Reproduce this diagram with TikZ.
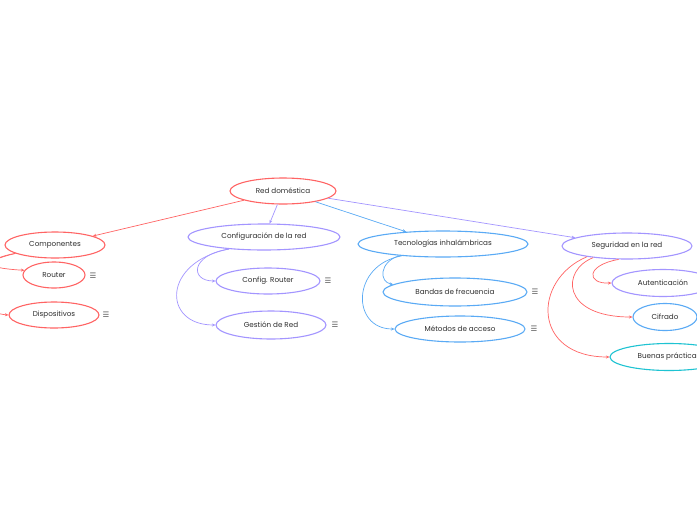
\documentclass[tikz,border=0pt]{standalone}
\usepackage{fontspec}
\setmainfont{Poppins}
\newfontfamily\iconfont{DejaVu Sans}
\usetikzlibrary{shapes.geometric,arrows.meta}
\definecolor{mapred}{HTML}{FF6464}
\definecolor{mappurple}{HTML}{A395FF}
\definecolor{mapblue}{HTML}{5AAAF5}
\definecolor{mapcyan}{HTML}{1EC3D2}
\definecolor{maptext}{HTML}{2E2E2E}
\tikzset{
  topic/.style={draw=#1, ellipse, line width=1.1pt, inner sep=0pt, text=maptext,
    font=\fontsize{7.2}{8}\selectfont},
  link/.style={draw=#1, line width=0.7pt, -{Stealth[length=3.5pt,width=3pt]}},
  menu/.style={text=maptext!80, font=\iconfont\fontsize{7.5}{8}\selectfont}
}
\begin{document}
\begin{tikzpicture}[x=1pt,y=-1pt]
  \fill[white] (0,0) rectangle (697,520);
  \useasboundingbox (0,0) rectangle (697,520);

  % topics
  \node (root) [topic=mapred, minimum width=106pt, minimum height=26pt] at (283,191) {Red doméstica};
  \node (comp) [topic=mapred, minimum width=100pt, minimum height=26pt] at (55,245) {Componentes};
  \node (rout) [topic=mapred, minimum width=62pt, minimum height=26pt] at (54,275) {Router};
  \node (disp) [topic=mapred, minimum width=90pt, minimum height=26pt] at (54,315) {Dispositivos};
  \node (cfg) [topic=mappurple, minimum width=152pt, minimum height=26pt] at (264,237) {Configuración de la red};
  \node (cfgr) [topic=mappurple, minimum width=104pt, minimum height=26pt] at (268,281) {Config. Router};
  \node (gest) [topic=mappurple, minimum width=110pt, minimum height=28pt] at (271,325) {Gestión de Red};
  \node (tec) [topic=mapblue, minimum width=170pt, minimum height=26pt] at (443,244) {Tecnologías inhalámbricas};
  \node (band) [topic=mapblue, minimum width=144pt, minimum height=28pt] at (455,292) {Bandas de frecuencia};
  \node (met) [topic=mapblue, minimum width=130pt, minimum height=26pt] at (460,329) {Métodos de acceso};
  \node (seg) [topic=mappurple, minimum width=130pt, minimum height=26pt] at (627,246) {Seguridad en la red};
  \node (auth) [topic=mappurple, minimum width=102pt, minimum height=27pt] at (663,283) {Autenticación};
  \node (cif) [topic=mapblue, minimum width=64pt, minimum height=27pt] at (665,317) {Cifrado};
  \node (buen) [topic=mapcyan, minimum width=118pt, minimum height=27pt] at (669,357) {Buenas prácticas};

  % note icons
  \node (routm) [menu] at (93,276) {☰};
  \node (dispm) [menu] at (106,315) {☰};
  \node (cfgrm) [menu] at (328,281) {☰};
  \node (gestm) [menu] at (335,325) {☰};
  \node (bandm) [menu] at (535,292) {☰};
  \node (metm) [menu] at (534,329) {☰};

  % links
  \draw[link=mapred] (root) -- (comp);
  \draw[link=mappurple] (root) -- (cfg);
  \draw[link=mapblue] (root) -- (tec);
  \draw[link=mappurple] (root) -- (seg);

  \draw[link=mapred] (comp.192) .. controls (-20,262) and (-15,268) .. (rout.171);
  \draw[link=mapred] (comp.192) .. controls (-40,262) and (-30,312) .. (disp.west);

  \draw[link=mappurple] (cfg.199) .. controls (190,255) and (190,281) .. (cfgr.west);
  \draw[link=mappurple] (cfg.199) .. controls (162,262) and (162,325) .. (gest.west);

  \draw[link=mapblue] (tec.195) .. controls (379,262) and (379,282) .. (band.173);
  \draw[link=mapblue] (tec.196) .. controls (351,265) and (351,329) .. (met.west);

  \draw[link=mapred] (seg.238) .. controls (586,265) and (586,284) .. (auth.west);
  \draw[link=mapred] (seg.199) .. controls (561,270) and (561,317) .. (cif.west);
  \draw[link=mapred] (seg.195) .. controls (532,280) and (532,357) .. (buen.west);
\end{tikzpicture}
\end{document}
